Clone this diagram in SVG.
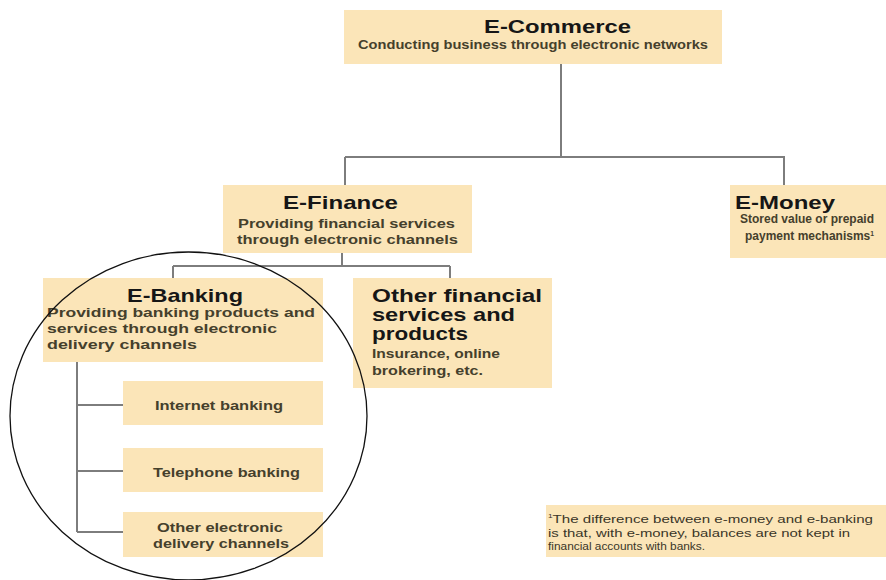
<svg xmlns="http://www.w3.org/2000/svg" width="886" height="580" viewBox="0 0 886 580">
<style>
.box{fill:#fbe5b8}
.t{font-family:"Liberation Sans",Arial,sans-serif;font-weight:bold;fill:#161616;font-size:19px}
.s{font-family:"Liberation Sans",Arial,sans-serif;font-weight:bold;fill:#45402c;font-size:12.5px}
.c{font-family:"Liberation Sans",Arial,sans-serif;font-weight:bold;fill:#45402c;font-size:12.5px}
.f{font-family:"Liberation Sans",Arial,sans-serif;fill:#3a3628;font-size:11px}
.ln{stroke:#7d7d7d;stroke-width:2;fill:none}
</style>
<rect width="886" height="580" fill="#ffffff"/>
<g id="connectors">
<path class="ln" d="M561 64V157M345 157H785M345 157V185M784 157V185"/>
<path class="ln" d="M342 253V266M173 266H450M173 266V278M450 266V278"/>
<path class="ln" d="M77 362V532M77 405H123M77 471H123M77 532H123"/>
</g>
<g id="e-commerce">
<rect class="box" x="344" y="10" width="378" height="54"/>
<text class="t" x="484" y="33" textLength="147" lengthAdjust="spacingAndGlyphs">E-Commerce</text>
<text class="s" x="358" y="49" textLength="350" lengthAdjust="spacingAndGlyphs">Conducting business through electronic networks</text>
</g>
<g id="e-finance">
<rect class="box" x="223" y="185" width="249" height="68"/>
<text class="t" x="283" y="209" textLength="115" lengthAdjust="spacingAndGlyphs">E-Finance</text>
<text class="s" x="238" y="228" textLength="217" lengthAdjust="spacingAndGlyphs">Providing financial services</text>
<text class="s" x="237" y="244" textLength="221" lengthAdjust="spacingAndGlyphs">through electronic channels</text>
</g>
<g id="e-money">
<rect class="box" x="730" y="185" width="156" height="73"/>
<text class="t" x="735" y="209" textLength="100" lengthAdjust="spacingAndGlyphs">E-Money</text>
<text class="s" x="740" y="223" textLength="134" lengthAdjust="spacingAndGlyphs">Stored value or prepaid</text>
<text class="s" x="745" y="240" textLength="129" lengthAdjust="spacingAndGlyphs">payment mechanisms<tspan font-size="7" dy="-4">1</tspan></text>
</g>
<g id="e-banking">
<rect class="box" x="43" y="278" width="280" height="84"/>
<text class="t" x="127" y="302" textLength="116" lengthAdjust="spacingAndGlyphs">E-Banking</text>
<text class="s" x="47" y="317" textLength="268" lengthAdjust="spacingAndGlyphs">Providing banking products and</text>
<text class="s" x="47" y="333" textLength="230" lengthAdjust="spacingAndGlyphs">services through electronic</text>
<text class="s" x="47" y="349" textLength="150" lengthAdjust="spacingAndGlyphs">delivery channels</text>
</g>
<g id="other-financial">
<rect class="box" x="353" y="278" width="199" height="110"/>
<text class="t" x="372" y="302" font-size="20" textLength="170" lengthAdjust="spacingAndGlyphs">Other financial</text>
<text class="t" x="372" y="321" font-size="20" textLength="143" lengthAdjust="spacingAndGlyphs">services and</text>
<text class="t" x="372" y="340" font-size="20" textLength="96" lengthAdjust="spacingAndGlyphs">products</text>
<text class="s" x="372" y="358" textLength="128" lengthAdjust="spacingAndGlyphs">Insurance, online</text>
<text class="s" x="372" y="375" textLength="111" lengthAdjust="spacingAndGlyphs">brokering, etc.</text>
</g>
<g id="internet-banking">
<rect class="box" x="123" y="381" width="200" height="44"/>
<text class="c" x="155" y="410" textLength="128" lengthAdjust="spacingAndGlyphs">Internet banking</text>
</g>
<g id="telephone-banking">
<rect class="box" x="123" y="448" width="200" height="44"/>
<text class="c" x="153" y="477" textLength="147" lengthAdjust="spacingAndGlyphs">Telephone banking</text>
</g>
<g id="other-electronic">
<rect class="box" x="123" y="512" width="200" height="45"/>
<text class="c" x="157" y="532" textLength="126" lengthAdjust="spacingAndGlyphs">Other electronic</text>
<text class="c" x="153" y="548" textLength="136" lengthAdjust="spacingAndGlyphs">delivery channels</text>
</g>
<g id="footnote">
<rect class="box" x="546" y="505" width="340" height="52"/>
<text class="f" x="548" y="523" textLength="325" lengthAdjust="spacingAndGlyphs"><tspan font-size="6" dy="-5">1</tspan><tspan dy="5">The difference between e-money and e-banking</tspan></text>
<text class="f" x="548" y="537" textLength="302" lengthAdjust="spacingAndGlyphs">is that, with e-money, balances are not kept in</text>
<text class="f" x="548" y="550" textLength="157" lengthAdjust="spacingAndGlyphs">financial accounts with banks.</text>
</g>
<ellipse id="highlight-circle" cx="188.5" cy="416" rx="178.5" ry="164" fill="none" stroke="#111111" stroke-width="1.3"/>
</svg>
